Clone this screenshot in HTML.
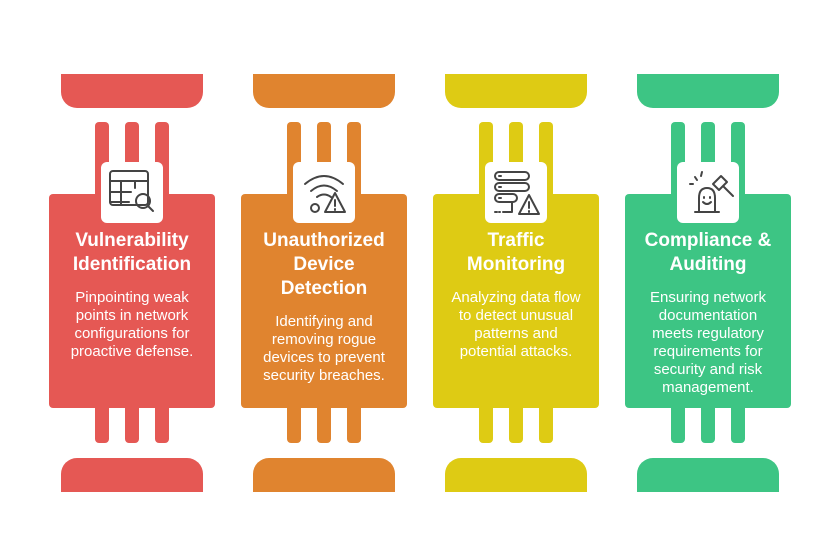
<!DOCTYPE html>
<html><head><meta charset="utf-8"><style>
body{margin:0;width:840px;height:541px;background:#fff;position:relative;overflow:hidden;font-family:"Liberation Sans",Arial,sans-serif}
.a{position:absolute}
.cap1{border-radius:0 0 16px 16px}
.cap2{border-radius:16px 16px 0 0}
.bar{border-radius:4px 4px 0 0}
.barb{border-radius:0 0 4px 4px}
.box{border-radius:4px}
.ic{background:#fff;border-radius:6px}
.t{color:#fff;font-weight:bold;font-size:19px;line-height:24px;text-align:center;width:166px}
.d{color:#fff;font-size:15px;line-height:18px;text-align:center;width:166px}
</style></head><body>
<div id="root"></div>
<script>
var cols=[
{c:'#E55854',t:['Vulnerability','Identification'],d:['Pinpointing weak','points in network','configurations for','proactive defense.']},
{c:'#E0842F',t:['Unauthorized','Device','Detection'],d:['Identifying and','removing rogue','devices to prevent','security breaches.']},
{c:'#DECB14',t:['Traffic','Monitoring'],d:['Analyzing data flow','to detect unusual','patterns and','potential attacks.']},
{c:'#3DC584',t:['Compliance &amp;','Auditing'],d:['Ensuring network','documentation','meets regulatory','requirements for','security and risk','management.']}
];
var icons=[
'<rect x="9" y="9" width="38" height="34" rx="3"/><path d="M9 19H47M9 30H30M9 40H28M20 19V43M34 19V26"/><circle cx="42" cy="39" r="7"/><path d="M47 44L52 49"/>',
'<path d="M12 22Q31 6 50 22M18 29Q31 18 44 29M24 35Q31 30 38 35"/><circle cx="22" cy="46" r="4"/><path d="M42 31L32 50H52Z M42 38V44 M42 47V48"/>',
'<rect x="10" y="10" width="34" height="8" rx="4"/><rect x="10" y="21" width="34" height="8" rx="4"/><rect x="10" y="32" width="22" height="8" rx="4"/><path d="M14 14h2M14 25h2M14 36h2M27 40V50H18M10 50h2M14 50h1"/><path d="M44 33L34 52H54Z M44 40V46 M44 49V50"/>',
'<path d="M22 50V36Q22 26 30 26Q38 26 38 36V50M18 50H42"/><path d="M26 40Q30 44 34 40M27 35v1M33 35v1"/><path d="M20 18l-2-3M24 14l1-4M16 22l-3 0"/><path d="M36 22l8-8 6 6-8 8z M46 24L56 34"/>'
];
var h='';
cols.forEach(function(o,i){
 var x=i*192;
 h+='<div class="a cap1" style="left:'+(61+x)+'px;top:74px;width:142px;height:34px;background:'+o.c+'"></div>';
 h+='<div class="a cap2" style="left:'+(61+x)+'px;top:458px;width:142px;height:34px;background:'+o.c+'"></div>';
 [95,125,155].forEach(function(b){
  h+='<div class="a bar" style="left:'+(b+x)+'px;top:122px;width:14px;height:80px;background:'+o.c+'"></div>';
  h+='<div class="a barb" style="left:'+(b+x)+'px;top:400px;width:14px;height:43px;background:'+o.c+'"></div>';
 });
 h+='<div class="a box" style="left:'+(49+x)+'px;top:194px;width:166px;height:214px;background:'+o.c+'"></div>';
 h+='<div class="a ic" style="left:'+(101+x)+'px;top:162px;width:62px;height:61px"><svg width="62" height="61" viewBox="0 0 62 61" fill="none" stroke="#444" stroke-width="2" stroke-linecap="round" stroke-linejoin="round">'+icons[i]+'</svg></div>';
 h+='<div class="a t" style="left:'+(49+x)+'px;top:229px">'+o.t.join('<br>')+'</div>';
 var dt=229+o.t.length*24+12;
 h+='<div class="a d" style="left:'+(49+x)+'px;top:'+dt+'px">'+o.d.join('<br>')+'</div>';
});
document.getElementById('root').innerHTML=h;
</script>
</body></html>
